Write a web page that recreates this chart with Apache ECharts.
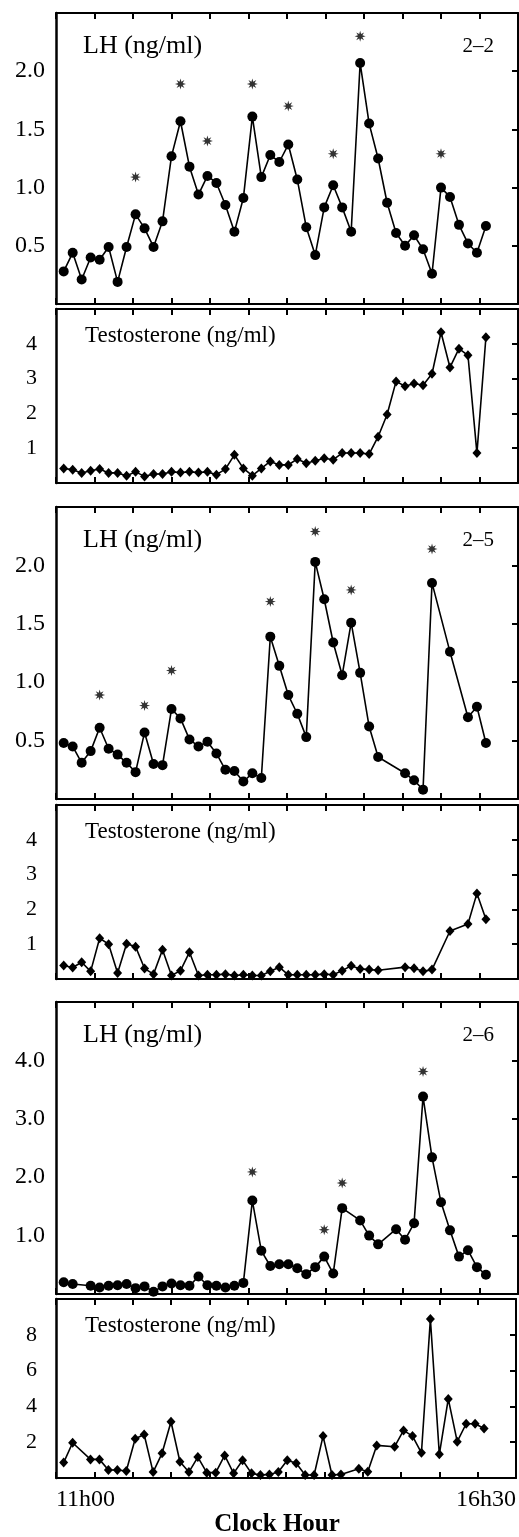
<!DOCTYPE html>
<html><head><meta charset="utf-8">
<script src="https://cdn.jsdelivr.net/npm/echarts@6/dist/echarts.min.js"></script>
<style>html,body{margin:0;padding:0;background:#fff}#c{width:519px;height:1537px}</style>
</head><body><div id="c"></div>
<script>
// sample times, minutes after 11h00
const sampleMinutes = [6,13,20,27,34,41,48,55,62,69,76,83,90,97,104,111,118,125,132,139,146,153,160,167,174,181,188,195,202,209,216,223,230,237,244,251,258,265,272,279,286,293,300,307,314,321,328,335];
const xTickLabels = ['11h00', '16h30'];
const xTitle = 'Clock Hour';

// Subject 2-2
const lh22 = [0.28,0.44,0.21,0.40,0.38,0.49,0.19,0.49,0.77,0.65, 0.49,0.71,1.27,1.57,1.18,0.94,1.10,1.04,0.85,0.62, 0.91,1.61,1.09,1.28,1.22,1.37,1.07,0.66,0.42,0.83, 1.02,0.83,0.62,2.07,1.55,1.25,0.87,0.61,0.50,0.59, 0.47,0.26,1.00,0.92,0.68,0.52,0.44,0.67];
const te22 = [0.42,0.38,0.29,0.35,0.40,0.29,0.29,0.21,0.32,0.19, 0.26,0.26,0.32,0.30,0.32,0.30,0.32,0.24,0.40,0.81, 0.42,0.21,0.42,0.62,0.52,0.52,0.69,0.57,0.64,0.71, 0.67,0.86,0.86,0.86,0.83,1.33,1.97,2.92,2.78,2.86, 2.81,3.14,4.33,3.32,3.86,3.67,0.86,4.19];
const peaks22 = [9,14,17,22,26,31,34,43];
const stars22 = [1.09,1.89,1.40,1.89,1.70,1.29,2.30,1.29];

// Subject 2-5
const lh25 = [0.48,0.45,0.31,0.41,0.61,0.43,0.38,0.31,0.23,0.57, 0.30,0.29,0.77,0.69,0.51,0.45,0.49,0.39,0.25,0.24, 0.15,0.22,0.18,1.39,1.14,0.89,0.73,0.53,2.03,1.71, 1.34,1.06,1.51,1.08,0.62,0.36,null,null,0.22,0.16, 0.08,1.85,null,1.26,null,0.70,0.79,0.48];
const te25 = [0.39,0.33,0.48,0.22,1.17,1.00,0.17,1.01,0.93,0.30, 0.14,0.84,0.10,0.24,0.77,0.10,0.12,0.12,0.14,0.10, 0.12,0.10,0.10,0.22,0.34,0.12,0.12,0.12,0.12,0.14, 0.12,0.24,0.38,0.29,0.27,0.25,null,null,0.34,0.31, 0.22,0.27,null,1.38,null,1.58,2.46,1.72];
const peaks25 = [5,10,13,24,29,33,42];
const stars25 = [0.89,0.80,1.10,1.69,2.29,1.79,2.14];

// Subject 2-6
const lh26 = [0.20,0.17,null,0.14,0.11,0.14,0.15,0.17,0.10,0.13, 0.04,0.13,0.18,0.15,0.14,0.30,0.15,0.14,0.11,0.14, 0.19,1.60,0.74,0.48,0.51,0.51,0.44,0.34,0.46,0.64, 0.35,1.47,null,1.26,1.00,0.85,null,1.11,0.93,1.21, 3.38,2.34,1.57,1.09,0.64,0.75,0.46,0.33];
const te26 = [0.86,1.97,null,1.04,1.04,0.45,0.45,0.39,2.19,2.43, 0.33,1.38,3.14,0.91,0.33,1.17,0.30,0.30,1.26,0.26, 0.99,0.26,0.17,0.20,0.33,0.99,0.82,0.17,0.17,2.34, 0.17,0.20,null,0.52,0.35,1.82,null,1.75,2.66,2.34, 1.41,8.88,1.32,4.42,2.03,3.03,3.03,2.77];
const peaks26 = [22,30,32,41];
const stars26 = [2.09,1.10,1.90,3.81];

// axis tick labels
const lhTicksA = [0.5,1.0,1.5,2.0];
const lhTicksB = [1.0,2.0,3.0,4.0];
const teTicksA = [1,2,3,4];
const teTicksB = [2,4,6,8];

const panels = [
  {kind:'LH', id:'2-2', values:lh22, peaks:peaks22, stars:stars22, yMax:2.5, yInt:0.5, ticks:lhTicksA, dec:1},
  {kind:'T', values:te22, yMax:5, yInt:1, ticks:teTicksA, dec:0},
  {kind:'LH', id:'2-5', values:lh25, peaks:peaks25, stars:stars25, yMax:2.5, yInt:0.5, ticks:lhTicksA, dec:1},
  {kind:'T', values:te25, yMax:5, yInt:1, ticks:teTicksA, dec:0},
  {kind:'LH', id:'2-6', values:lh26, peaks:peaks26, stars:stars26, yMax:5, yInt:1, ticks:lhTicksB, dec:1},
  {kind:'T', values:te26, yMax:10, yInt:2, ticks:teTicksB, dec:0}
];

// layout (pixels)
const layout = [
  {top:13, height:291},{top:309, height:174},
  {top:507, height:292},{top:805, height:174},
  {top:1002, height:292},{top:1299, height:179}
];
const FONT = '"Liberation Serif", "DejaVu Serif", serif';
const starPath = 'path://M50 0L58.42 29.67L85.36 14.64L70.33 41.58L100 50L70.33 58.42L85.36 85.36L58.42 70.33L50 100L41.58 70.33L14.64 85.36L29.67 58.42L0 50L29.67 41.58L14.64 14.64L41.58 29.67Z';

const grid = [], xAxis = [], yAxis = [], series = [], graphic = [];
panels.forEach((p, i) => {
  const L = layout[i];
  grid.push({left:56, right:1, top:L.top, height:L.height, show:false, containLabel:false});
  const last = i === panels.length - 1;
  const xBase = {
    gridIndex:i, type:'value', min:0, max:360, interval:30,
    axisLine:{show:true, onZero:false, lineStyle:{color:'#000', width:2}},
    axisTick:{show:true, inside:true, length:6, lineStyle:{color:'#000', width:2}},
    splitLine:{show:false}
  };
  xAxis.push(Object.assign({}, xBase, {position:'bottom',
    axisLabel: last ? {show:true, showMinLabel:true, showMaxLabel:false, align:'left', margin:10,
      fontFamily:FONT, fontSize:24, color:'#000',
      formatter: v => v === 0 ? xTickLabels[0] : ''} : {show:false}}));
  xAxis.push(Object.assign({}, xBase, {position:'top', axisLabel:{show:false}}));
  yAxis.push({gridIndex:i, type:'value', min:0, max:p.yMax, interval:p.yInt, position:'left',
    axisLine:{show:true, onZero:false, lineStyle:{color:'#000', width:2.5}},
    axisTick:{show:false}, splitLine:{show:false},
    axisLabel:{show:true, margin: p.kind === 'LH' ? 11 : 19, fontFamily:FONT, fontSize: p.kind === 'LH' ? 24 : 22, color:'#000',
      formatter: v => p.ticks.some(t => Math.abs(t - v) < 1e-6) ? v.toFixed(p.dec) : ''}});
  yAxis.push({gridIndex:i, type:'value', min:0, max:p.yMax, interval:p.yInt, position:'right',
    axisLine:{show:true, onZero:false, lineStyle:{color:'#000', width:2}},
    axisTick:{show:true, inside:true, length:6, lineStyle:{color:'#000', width:2}},
    axisLabel:{show:false}, splitLine:{show:false}});

  const data = p.values.map((v, k) => v == null ? null : [sampleMinutes[k], v]).filter(d => d);
  series.push({type:'line', xAxisIndex:2*i, yAxisIndex:2*i, data,
    symbol: p.kind === 'LH' ? 'circle' : 'diamond',
    symbolSize: p.kind === 'LH' ? 10 : [9, 10],
    itemStyle:{color:'#000'}, lineStyle:{color:'#000', width:1.6},
    animation:false, clip:false, z:3});
  if (p.peaks) {
    series.push({type:'scatter', xAxisIndex:2*i, yAxisIndex:2*i,
      data: p.peaks.map((pk, k) => [sampleMinutes[pk - 1], p.stars[k]]),
      symbol: starPath, symbolSize:11, itemStyle:{color:'#000'}, animation:false, z:4});
    graphic.push({type:'text', x:83, y:L.top + 33, style:{text:'LH (ng/ml)', font:'26px ' + FONT, fill:'#000', align:'left', verticalAlign:'middle'}});
    graphic.push({type:'text', x:494, y:L.top + 33, style:{text:p.id.replace('-', '–'), font:'21px ' + FONT, fill:'#000', align:'right', verticalAlign:'middle'}});
  } else {
    graphic.push({type:'text', x:85, y:L.top + 27, style:{text:'Testosterone (ng/ml)', font:'23px ' + FONT, fill:'#000', align:'left', verticalAlign:'middle'}});
  }
});
// extra axis carrying the right-end label of the bottom panel
xAxis.push({gridIndex:5, type:'value', min:0, max:360, interval:30, position:'bottom',
  axisLine:{show:false}, axisTick:{show:false}, splitLine:{show:false},
  axisLabel:{show:true, showMinLabel:false, showMaxLabel:true, align:'right', margin:10,
    fontFamily:FONT, fontSize:24, color:'#000', formatter: v => v === 360 ? xTickLabels[1] : ''}});
graphic.push({type:'text', x:277, y:1525, style:{text:xTitle, font:'bold 25px ' + FONT, fill:'#000', align:'center', verticalAlign:'middle'}});

const chart = echarts.init(document.getElementById('c'), null, {renderer:'canvas'});
chart.setOption({backgroundColor:'#fff', animation:false, grid, xAxis, yAxis, series, graphic});
</script></body></html>
